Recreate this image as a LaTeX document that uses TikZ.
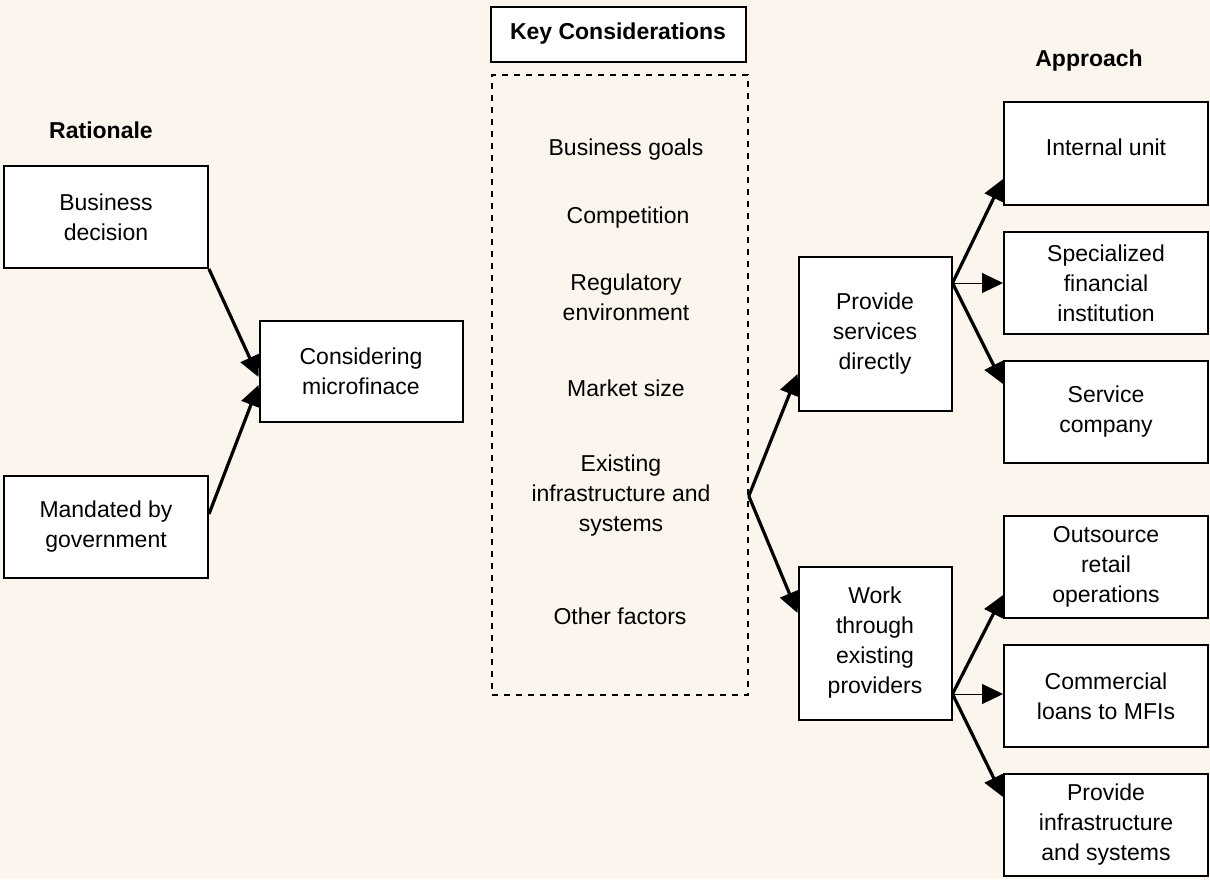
\documentclass[tikz,border=0pt]{standalone}
\usepackage{fontspec}
\setmainfont{Liberation Sans}
\usetikzlibrary{arrows.meta}
\definecolor{cream}{RGB}{252,245,238}
\begin{document}
\begin{tikzpicture}[x=0.5pt,y=-0.5pt,font=\fontsize{11.5}{15}\selectfont]

\tikzstyle{box}=[draw,fill=white,line width=1pt,align=center,inner sep=0pt];
\tikzstyle{flow}=[-{Triangle[length=10.5pt,width=10pt]},line width=1.6pt];
\tikzstyle{thinflow}=[-{Triangle[length=10.5pt,width=10pt]},line width=0.5pt];
\tikzstyle{head}=[font=\fontsize{11.5}{15}\selectfont\bfseries];

\fill[cream] (0,0) rectangle (1210,879);

% rationale
\node[head] (v0) at (101,130) {Rationale};
\node[box,minimum width=102pt,minimum height=51pt] (v1) at (106,217) {Business\\decision};
\node[box,minimum width=102pt,minimum height=51pt] (v2) at (106,527) {Mandated by\\government};
\node[box,minimum width=101.5pt,minimum height=50.5pt] (v3) at (361,371) {Considering\\microfinace};

% key considerations
\node[box,minimum width=127.5pt,minimum height=27.5pt] (v4) at (618,34) {\bfseries Key Considerations};
\node[draw,dashed,line width=0.8pt,minimum width=128pt,minimum height=310pt] (v5) at (620,385) {};
\node (v6) at (626,150) {Business goals};
\node (v7) at (628,218) {Competition};
\node[align=center] (v8) at (626,297) {Regulatory\\environment};
\node (v9) at (626,388) {Market size};
\node[align=center] (v10) at (621,496) {Existing\\infrastructure and\\systems};
\node (v11) at (620,616) {Other factors};

% approach
\node[box,minimum width=76.5pt,minimum height=77pt] (v12) at (875,334) {Provide\\services\\directly};
\node[box,minimum width=76.5pt,minimum height=76.5pt] (v13) at (875,643) {Work\\through\\existing\\providers};
\node[head] (v14) at (1089,61) {Approach};
\node[box,minimum width=102pt,minimum height=51.5pt] (v15) at (1106,153) {Internal unit\\[-9pt]{}};
\node[box,minimum width=102pt,minimum height=51pt] (v16) at (1106,283) {Specialized\\financial\\institution};
\node[box,minimum width=102pt,minimum height=51pt] (v17) at (1106,412) {Service\\company};
\node[box,minimum width=102pt,minimum height=51pt] (v18) at (1106,567) {Outsource\\retail\\operations};
\node[box,minimum width=102pt,minimum height=51pt] (v19) at (1106,696) {Commercial\\loans to MFIs};
\node[box,minimum width=102pt,minimum height=51pt] (v20) at (1106,825) {Provide\\infrastructure\\and systems};

\draw[flow] (v1.south east) -- ([yshift=-3pt]v3.west);
\draw[flow] ([yshift=6.5pt]v2.east) -- ([yshift=-7pt]v3.west);

\coordinate (s1) at (v5.east |- v10.center);
\draw[flow] (s1) -- ([yshift=-20pt]v12.west);
\draw[flow] (s1) -- ([yshift=15pt]v13.west);

\draw[flow] ([yshift=25.5pt]v12.east) -- ([yshift=-13pt]v15.west);
\draw[thinflow] ([yshift=25.5pt]v12.east) -- (v16.west);
\draw[flow] ([yshift=25.5pt]v12.east) -- ([yshift=14pt]v17.west);

\draw[flow] ([yshift=-25.5pt]v13.east) -- ([yshift=-14pt]v18.west);
\draw[thinflow] ([yshift=-25.5pt]v13.east) -- ([yshift=1pt]v19.west);
\draw[flow] ([yshift=-25.5pt]v13.east) -- ([yshift=14pt]v20.west);
\end{tikzpicture}
\end{document}
